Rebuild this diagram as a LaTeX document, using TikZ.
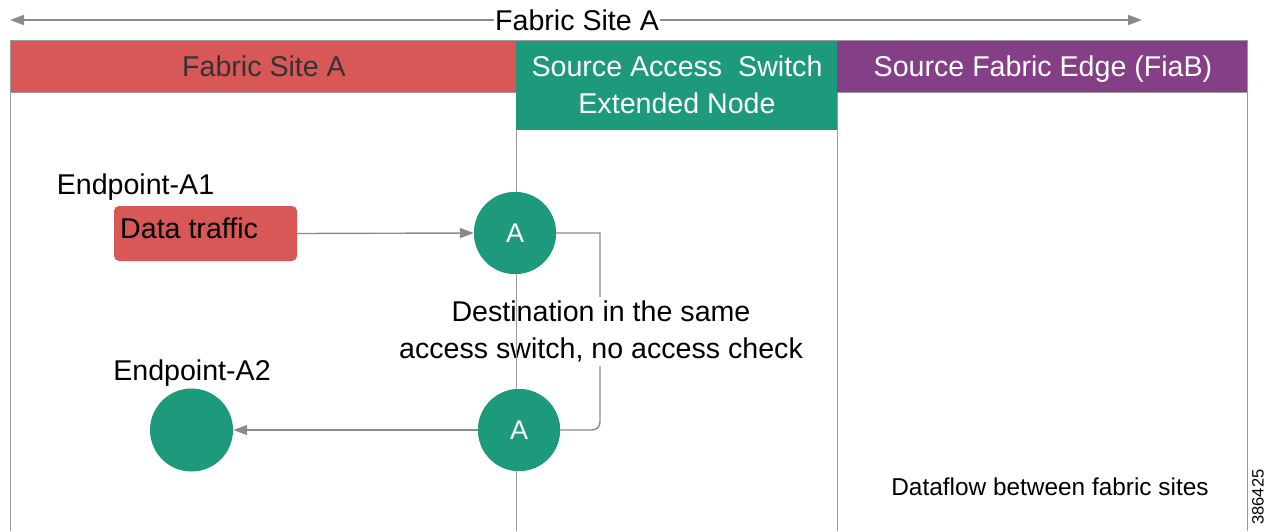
\documentclass[tikz,border=0pt]{standalone}
\usepackage{fontspec}
\setmainfont{Liberation Sans}
\usetikzlibrary{arrows.meta}
\definecolor{cred}{HTML}{D85757}
\definecolor{cgreen}{HTML}{1D9A7B}
\definecolor{cpurple}{HTML}{843F87}
\definecolor{cline}{HTML}{8A8A8A}
\definecolor{cframe}{HTML}{9A9A9A}
\definecolor{ctxt}{HTML}{333333}
\tikzset{
  big/.style={font=\fontsize{28.6}{37}\selectfont, inner sep=0pt, anchor=base},
  mid/.style={font=\fontsize{24.4}{28}\selectfont, inner sep=0pt, anchor=base},
  hdr/.style={draw=cframe, line width=0.8pt},
  frame/.style={draw=cframe, line width=1pt},
  flow/.style={draw=cline, line width=1.4pt},
  tip/.style={-{Triangle[length=14pt,width=10pt]}},
  sw/.style={circle, fill=cgreen, minimum size=82pt, inner sep=0pt, text=white, font=\fontsize{27}{32}\selectfont},
}
\begin{document}
\begin{tikzpicture}[x=1pt,y=-1pt]
\useasboundingbox (0,0) rectangle (1266,531);
% headers
\fill[cred] (10,40) rectangle (516,92);
\fill[cgreen] (516,40) rectangle (837,130);
\fill[cpurple] (837,40) rectangle (1247,92);
\draw[hdr] (10,40) -- (1247,40);
% frame lines
\draw[frame] (10,40) -- (10,531);
\draw[frame] (1247,40) -- (1247,531);
\draw[frame] (837,92) -- (837,531);
\draw[frame] (10,92) -- (516,92);
\draw[frame] (837,92) -- (1247,92);
% header texts
\node[big, text=ctxt] (hA) at (264,76) {Fabric Site A};
\node[big, text=white] (hS1) at (677,76) {Source Access\ \ Switch};
\node[big, text=white] (hS2) at (677,113) {Extended Node};
\node[big, text=white] (hF) at (1043,76) {Source Fabric Edge (FiaB)};
% top span arrow
\node[big, fill=white, inner xsep=1pt] (top) at (577,30) {Fabric Site A};
\coordinate (tl) at (10,20);
\coordinate (tr) at (1142,20);
\draw[draw=cline, line width=1.6pt, tip] (top.west |- tl) -- (tl);
\draw[draw=cline, line width=1.6pt, tip] (top.east |- tr) -- (tr);
% nodes
\node[big] (e1) at (135.5,194) {Endpoint-A1};
\node[rounded corners=5pt, fill=cred, minimum width=183pt, minimum height=55pt] (dt) at (205.5,233.5) {};
\node[big, anchor=base west] (dtl) at (120,238) {Data traffic};
\node[big] (e2) at (192,380) {Endpoint-A2};
\node[sw] (a1) at (515,233) {};
\node[sw] (a2) at (519,430) {};
\node[circle, fill=cgreen, minimum size=83pt, inner sep=0pt] (ep2) at (191.5,430) {};
% connectors
\draw[flow] (a1.east) -- (600,233) [rounded corners=8pt] -- (600,430) -- (a2.east);
\node[big, fill=white, align=center, inner ysep=4pt, anchor=center] (lbl) at (601,331.5) {Destination in the same\\access switch, no access check};
\draw[frame] (516,130) -- (516,531);
\draw[flow, tip] (dt.east) -- (a1.west);
\draw[flow, tip] (a2.west) -- (ep2.east);
\node[sw] at (a1) {A};
\node[sw] at (a2) {A};
% footer
\node[mid] (df) at (1050,495) {Dataflow between fabric sites};
\node[font=\fontsize{16.5}{18}\selectfont, rotate=90, inner sep=0pt] (num) at (1258,497) {386425};
\end{tikzpicture}
\end{document}
